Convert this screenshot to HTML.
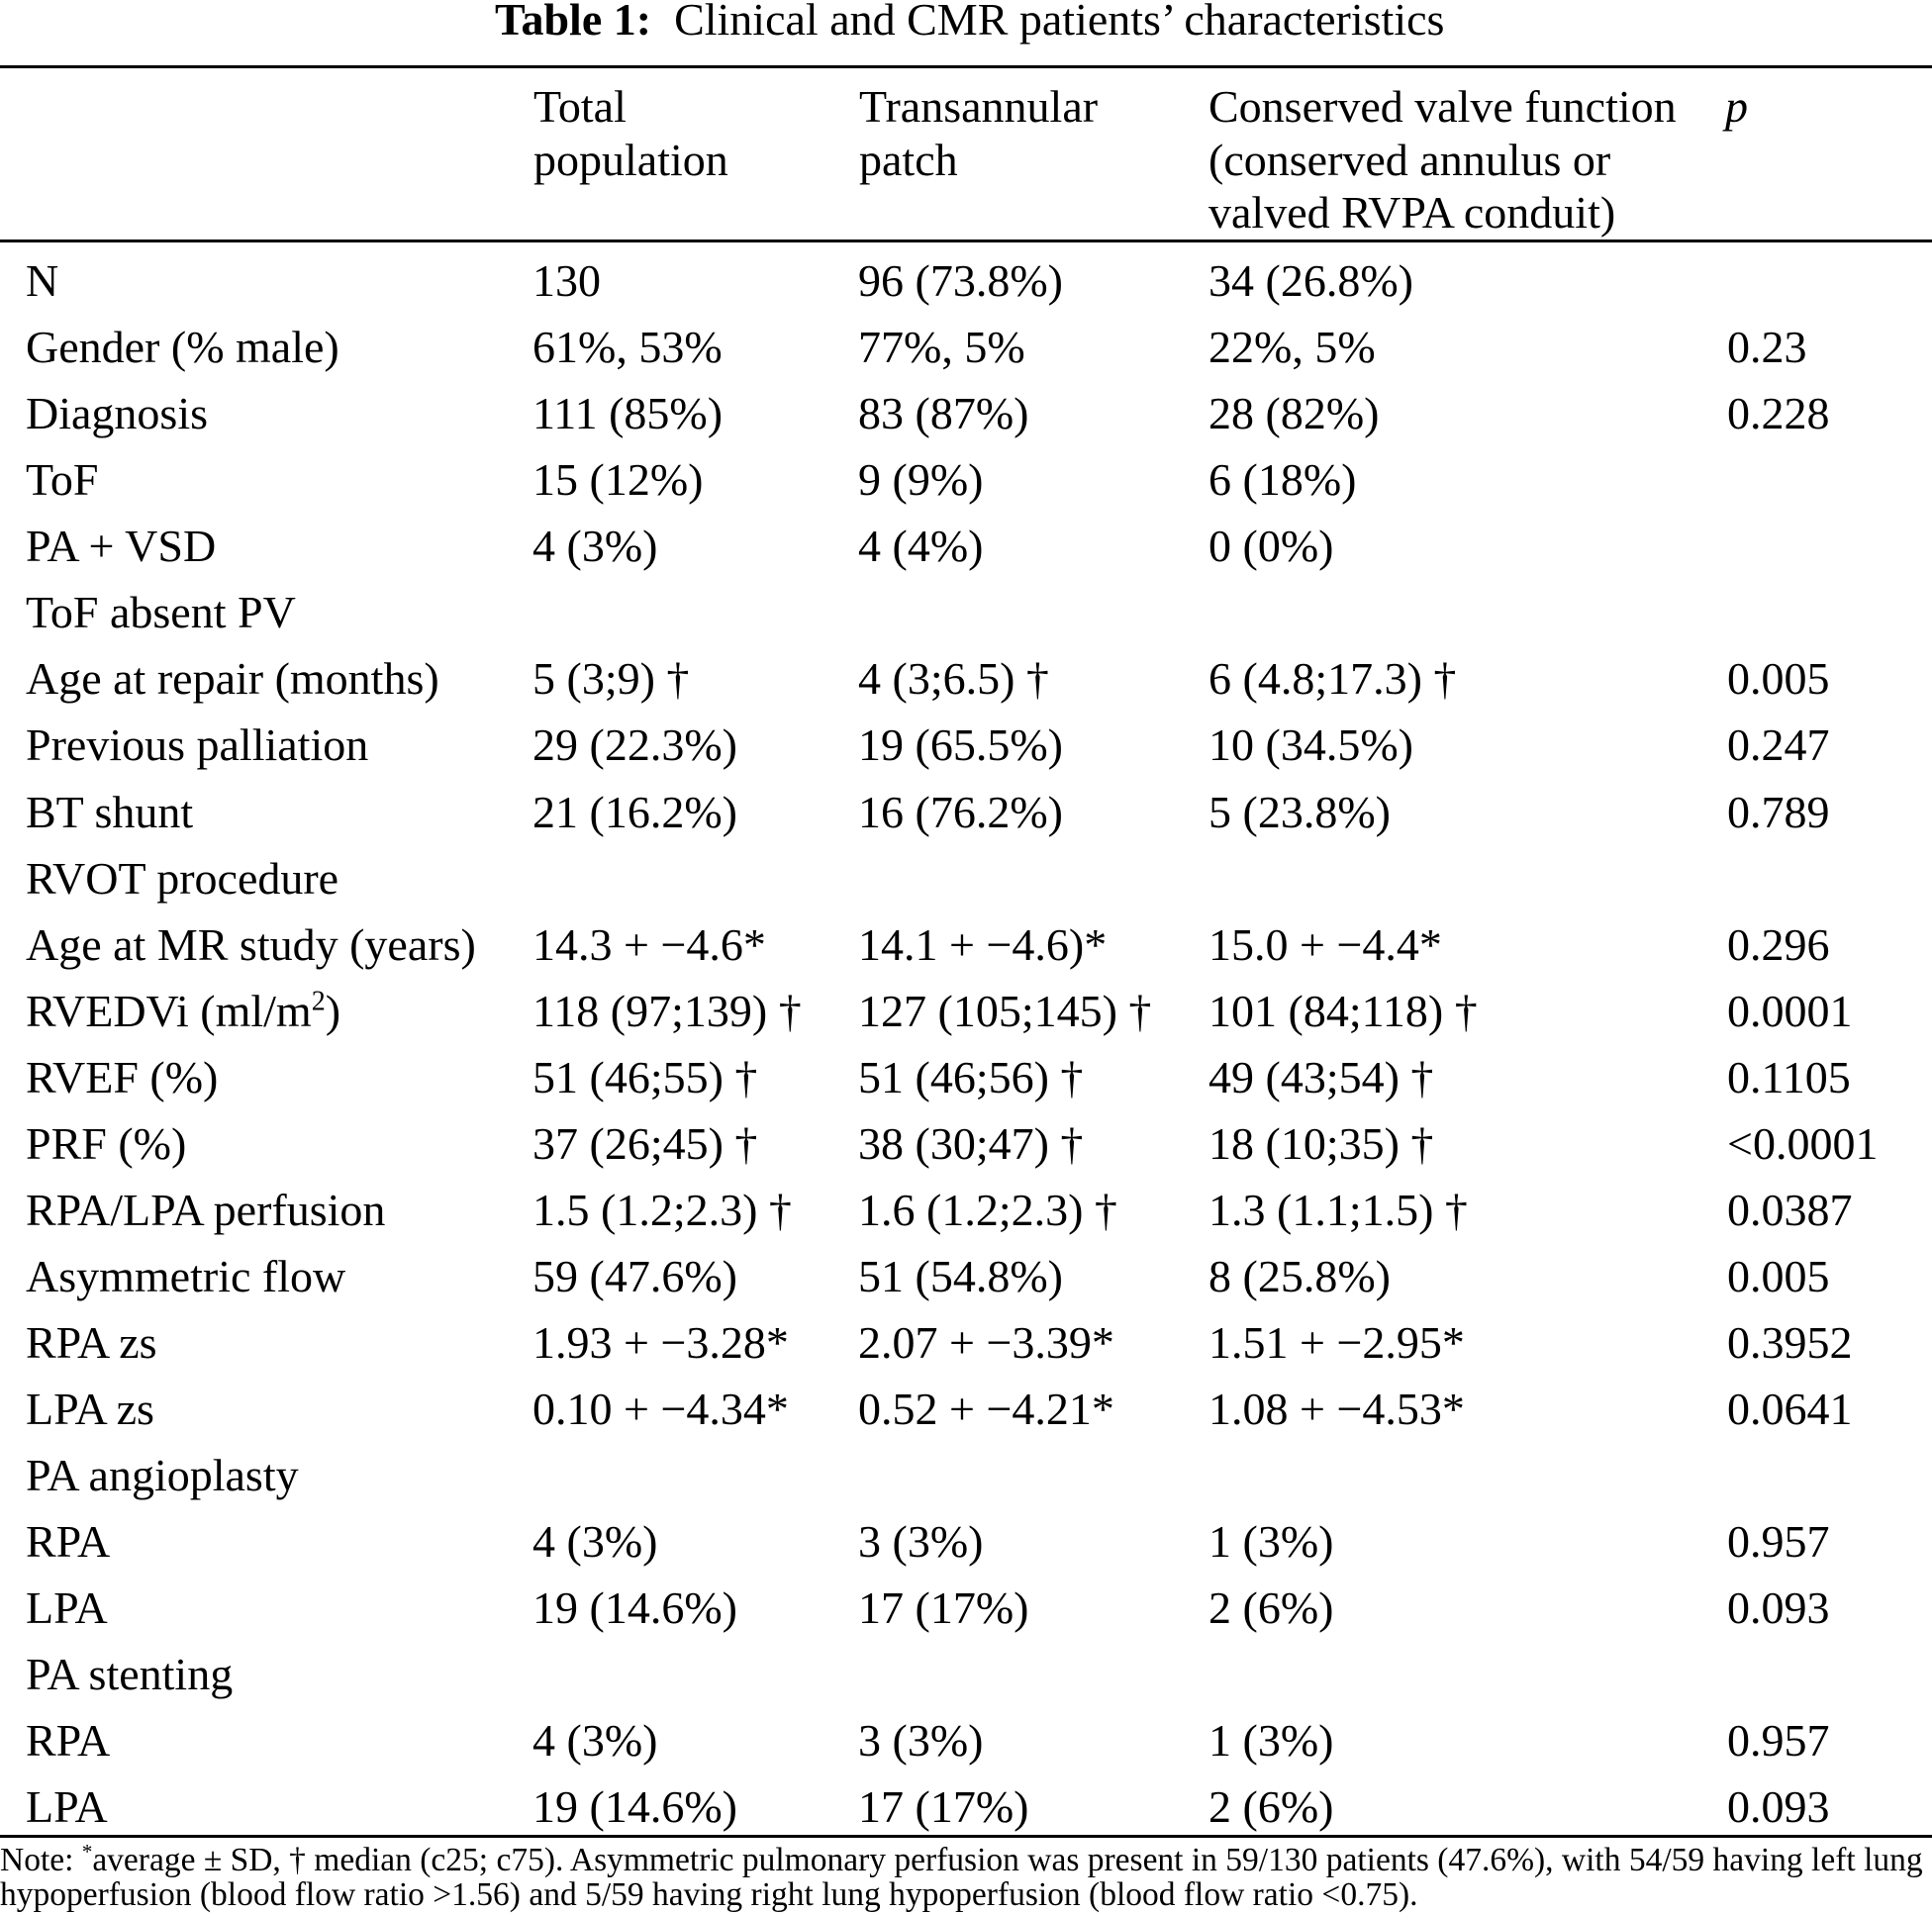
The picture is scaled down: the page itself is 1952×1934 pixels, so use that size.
<!DOCTYPE html>
<html><head><meta charset="utf-8"><style>
body{margin:0;width:1952px;height:1934px;background:#fff;position:relative;overflow:hidden;font-family:"Liberation Serif",serif;color:#000;}
.t{position:absolute;font-size:46px;line-height:60px;white-space:nowrap;}
.r{position:absolute;left:0;width:1952px;height:3px;background:#000;}
.n{position:absolute;left:0;font-size:33.5px;line-height:36px;white-space:nowrap;}
sup{line-height:0;}
</style></head><body>
<div class="t" style="left:500px;top:-10px;"><b>Table 1:</b>&nbsp; Clinical and CMR patients’ characteristics</div>
<div class="r" style="top:66px"></div>
<div class="t" style="left:539px;top:78px">Total</div>
<div class="t" style="left:539px;top:132px">population</div>
<div class="t" style="left:868px;top:78px">Transannular</div>
<div class="t" style="left:868px;top:132px">patch</div>
<div class="t" style="left:1221px;top:78px">Conserved valve function</div>
<div class="t" style="left:1221px;top:132px">(conserved annulus or</div>
<div class="t" style="left:1221px;top:185px">valved RVPA conduit)</div>
<div class="t" style="left:1743px;top:78px"><i>p</i></div>
<div class="r" style="top:242px"></div>
<div id="rows"></div>
<div class="r" style="top:1854px"></div>
<div class="n" style="top:1862px">Note: <sup style="font-size:21px">*</sup>average ± SD, † median (c25; c75). Asymmetric pulmonary perfusion was present in 59/130 patients (47.6%), with 54/59 having left lung</div>
<div class="n" style="top:1897px">hypoperfusion (blood flow ratio &gt;1.56) and 5/59 having right lung hypoperfusion (blood flow ratio &lt;0.75).</div>
<script>
var d=[
["N","130","96 (73.8%)","34 (26.8%)",""],
["Gender (% male)","61%, 53%","77%, 5%","22%, 5%","0.23"],
["Diagnosis","111 (85%)","83 (87%)","28 (82%)","0.228"],
["ToF","15 (12%)","9 (9%)","6 (18%)",""],
["PA + VSD","4 (3%)","4 (4%)","0 (0%)",""],
["ToF absent PV","","","",""],
["Age at repair (months)","5 (3;9) †","4 (3;6.5) †","6 (4.8;17.3) †","0.005"],
["Previous palliation","29 (22.3%)","19 (65.5%)","10 (34.5%)","0.247"],
["BT shunt","21 (16.2%)","16 (76.2%)","5 (23.8%)","0.789"],
["RVOT procedure","","","",""],
["Age at MR study (years)","14.3 + −4.6*","14.1 + −4.6)*","15.0 + −4.4*","0.296"],
["RVEDVi (ml/m<sup style='font-size:28px'>2</sup>)","118 (97;139) †","127 (105;145) †","101 (84;118) †","0.0001"],
["RVEF (%)","51 (46;55) †","51 (46;56) †","49 (43;54) †","0.1105"],
["PRF (%)","37 (26;45) †","38 (30;47) †","18 (10;35) †","&lt;0.0001"],
["RPA/LPA perfusion","1.5 (1.2;2.3) †","1.6 (1.2;2.3) †","1.3 (1.1;1.5) †","0.0387"],
["Asymmetric flow","59 (47.6%)","51 (54.8%)","8 (25.8%)","0.005"],
["RPA zs","1.93 + −3.28*","2.07 + −3.39*","1.51 + −2.95*","0.3952"],
["LPA zs","0.10 + −4.34*","0.52 + −4.21*","1.08 + −4.53*","0.0641"],
["PA angioplasty","","","",""],
["RPA","4 (3%)","3 (3%)","1 (3%)","0.957"],
["LPA","19 (14.6%)","17 (17%)","2 (6%)","0.093"],
["PA stenting","","","",""],
["RPA","4 (3%)","3 (3%)","1 (3%)","0.957"],
["LPA","19 (14.6%)","17 (17%)","2 (6%)","0.093"]];
var xs=[26,538,867,1221,1745],h="";
d.forEach(function(r,i){var top=284+67.06*i-30;r.forEach(function(c,j){if(c)h+='<div class="t" style="left:'+xs[j]+'px;top:'+top.toFixed(1)+'px">'+c+'</div>';});});
document.getElementById("rows").innerHTML=h;
</script>
</body></html>
